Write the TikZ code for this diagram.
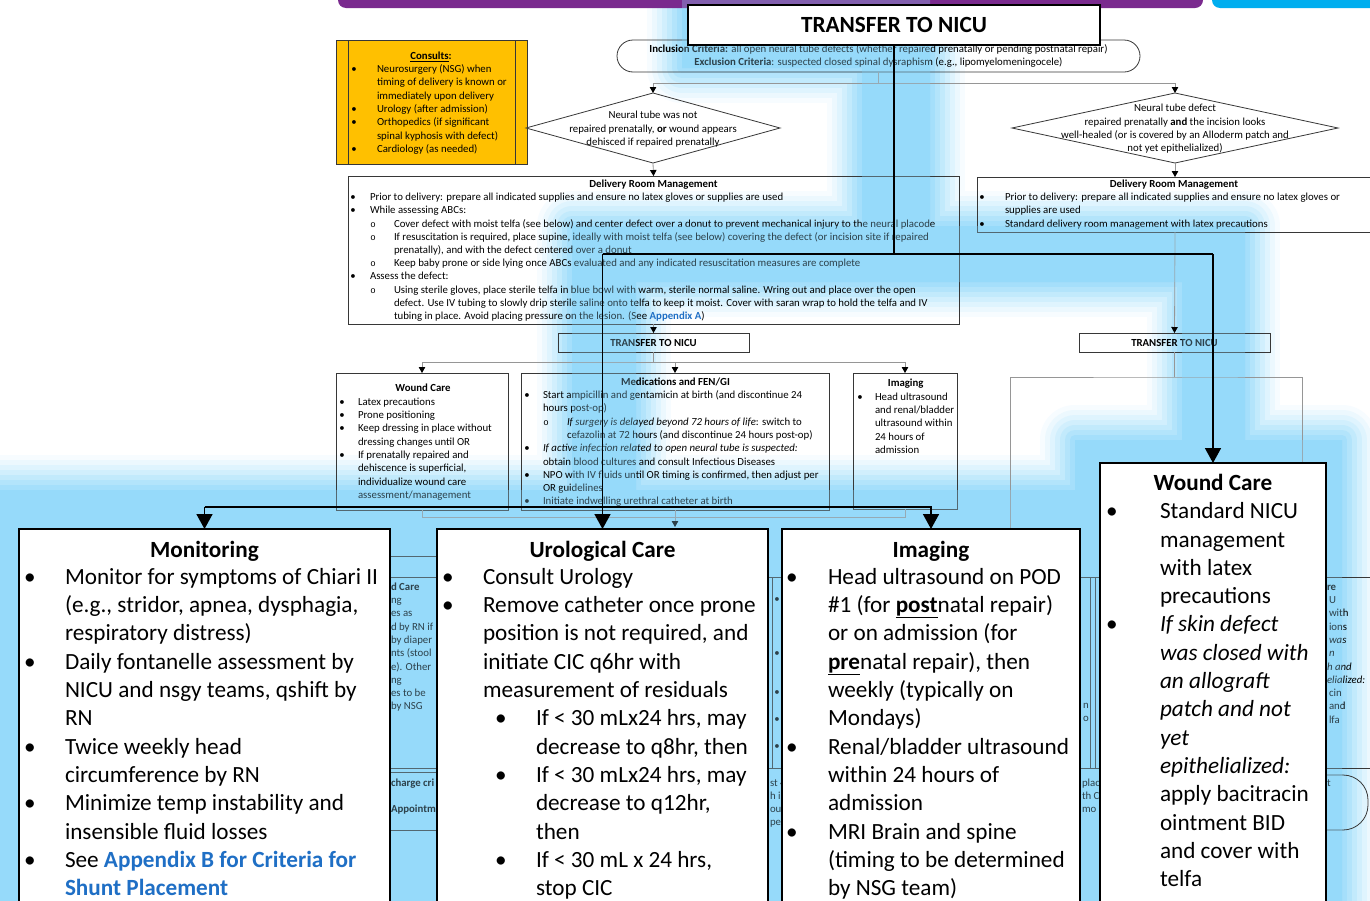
\documentclass[tikz,border=0pt]{standalone}
\usepackage{fontspec}
\setmainfont{Carlito}
\newfontfamily\monof{Liberation Mono}
\usetikzlibrary{arrows.meta,shapes.geometric}
\definecolor{glowc}{RGB}{150,218,250}
\definecolor{purp}{RGB}{122,42,142}
\definecolor{cyanbar}{RGB}{0,174,239}
\definecolor{gold}{RGB}{255,192,0}
\definecolor{link}{RGB}{31,111,197}
\definecolor{gline}{RGB}{150,150,150}
\definecolor{bline}{RGB}{55,55,55}
\newcommand\smf{\fontsize{10.8}{13.2}\selectfont}
\newcommand\bgf{\fontsize{23.2}{28.3}\selectfont}
\newcounter{ln}
\newcommand\Lt[3]{\stepcounter{ln}\node[txt,anchor=base west] (t\theln) at (#1,#2) {#3};}
\newcommand\Ct[3]{\stepcounter{ln}\node[txt,anchor=base] (t\theln) at (#1,#2) {#3};}
\newcommand\Bu[2]{\Ct{#1}{#2}{\textbullet}}
\newcommand\Ob[2]{\Ct{#1}{#2}{{\monof\fontsize{9}{9}\selectfont o}}}
\tikzset{
 txt/.style={inner sep=0pt,outer sep=0pt},
 sbox/.style={draw=bline,line width=0.8pt,inner sep=0pt,outer sep=0pt},
 gc/.style={draw=gline,line width=0.8pt},
 hl/.style={draw=bline,line width=0.8pt},
 bk/.style={draw=black,line width=1.6pt},
 bbox/.style={draw=black,line width=2.2pt,fill=white,inner sep=0pt,outer sep=0pt},
 smt/.tip={Triangle[width=6.5pt,length=6pt,color=black]},
 bigt/.tip={Triangle[width=16pt,length=15pt]},
}
\def\glowcore{(682,0) rectangle (930,68) (862,0) rectangle (930,282) (572,226) rectangle (1245,282) (572,226) rectangle (636,500) (1182,226) rectangle (1245,450) (1075,440) rectangle (1342,910) (-10,490) rectangle (1342,910)}
\begin{document}
\begin{tikzpicture}[x=1pt,y=-1pt]
\useasboundingbox (0,0) rectangle (1370,900);
\clip (0,0) rectangle (1370,900);
\fill[white] (0,0) rectangle (1370,900);
% ---------- soft glow (base) ----------
\foreach \w/\t in {70/8,60/18,50/30,40/44,30/58,20/72,10/86}{
  \filldraw[draw=glowc!\t,fill=glowc!\t,line width=\w pt,line join=round] \glowcore;}
\fill[glowc] \glowcore;
% ---------- top bars ----------
\fill[purp,rounded corners=8pt] (338,-20) rectangle (1203,8);
\fill[cyanbar,rounded corners=8pt] (1212,-20) rectangle (1395,8);
% ---------- background flowchart ----------
\begin{scope}[nodes={font=\smf}]
\node[sbox,fill=gold,minimum width=191pt,minimum height=124pt] (cons) at (431.5,102) {};
\draw[bline,line width=0.8pt] (348,40) -- (348,164) (515,40) -- (515,164);
\Ct{431}{59.5}{\textbf{\underline{Consults}:}}
\Bu{354}{72.8}\Bu{354}{112.5}\Bu{354}{125.8}\Bu{354}{152.5}
\Lt{377}{72.8}{Neurosurgery (NSG) when}
\Lt{377}{85.8}{timing of delivery is known or}
\Lt{377}{99.2}{immediately upon delivery}
\Lt{377}{112.5}{Urology (after admission)}
\Lt{377}{125.8}{Orthopedics (if significant}
\Lt{377}{139.2}{spinal kyphosis with defect)}
\Lt{377}{152.5}{Cardiology (as needed)}

\node[sbox,rounded corners=16pt,minimum width=523pt,minimum height=32pt] (crit) at (878.5,56) {};
\Ct{878.5}{52.5}{\textbf{Inclusion Criteria:} all open neural tube defects (whether repaired prenatally or pending postnatal repair)}
\Ct{878.5}{65.8}{\textbf{Exclusion Criteria}: suspected closed spinal dysraphism (e.g., lipomyelomeningocele)}

\node[diamond,sbox,minimum width=254pt,minimum height=70pt] (dL) at (653,128) {};
\Ct{653}{118.8}{Neural tube was not}
\Ct{653}{132.1}{repaired prenatally, \textbf{or} wound appears}
\Ct{653}{145.4}{dehisced if repaired prenatally}
\node[diamond,sbox,minimum width=326pt,minimum height=70pt] (dR) at (1175,128) {};
\Ct{1175}{111.8}{Neural tube defect}
\Ct{1175}{125.1}{repaired prenatally \textbf{and} the incision looks}
\Ct{1175}{138.4}{well-healed (or is covered by an Alloderm patch and}
\Ct{1175}{151.7}{not yet epithelialized)}

\draw[gc] (crit.south) -- ++(0,11) coordinate (c0);
\draw[gc,-smt] (c0) -| (dL.north);
\draw[gc,-smt] (c0) -| (dR.north);

\node[sbox,minimum width=611pt,minimum height=148pt] (drmL) at (653.5,250) {};
\draw[gc,-smt] (dL.south) -- (drmL.north);
\Ct{653.5}{187.5}{\textbf{Delivery Room Management}}
\Bu{353}{200.7}\Bu{353}{213.9}\Bu{353}{279.9}
\Ob{373}{227.1}\Ob{373}{240.3}\Ob{373}{266.7}\Ob{373}{293.1}
\Lt{370}{200.7}{Prior to delivery: prepare all indicated supplies and ensure no latex gloves or supplies are used}
\Lt{370}{213.9}{While assessing ABCs:}
\Lt{394}{227.1}{Cover defect with moist telfa (see below) and center defect over a donut to prevent mechanical injury to the neural placode}
\Lt{394}{240.3}{If resuscitation is required, place supine, ideally with moist telfa (see below) covering the defect (or incision site if repaired}
\Lt{394}{253.5}{prenatally), and with the defect centered over a donut}
\Lt{394}{266.7}{Keep baby prone or side lying once ABCs evaluated and any indicated resuscitation measures are complete}
\Lt{370}{279.9}{Assess the defect:}
\Lt{394}{293.1}{Using sterile gloves, place sterile telfa in blue bowl with warm, sterile normal saline. Wring out and place over the open}
\Lt{394}{306.3}{defect. Use IV tubing to slowly drip sterile saline onto telfa to keep it moist. Cover with saran wrap to hold the telfa and IV}
\Lt{394}{319.5}{tubing in place. Avoid placing pressure on the lesion. (See \textcolor{link}{\textbf{Appendix A}})}

\node[sbox,minimum width=396pt,minimum height=55pt] (drmR) at (1175,204.5) {};
\draw[gc,-smt] (dR.south) -- (drmR.north);
\Ct{1174}{187.5}{\textbf{Delivery Room Management}}
\Bu{982}{200.7}\Bu{982}{227.1}
\Lt{1005}{200.7}{Prior to delivery: prepare all indicated supplies and ensure no latex gloves or}
\Lt{1005}{213.9}{supplies are used}
\Lt{1005}{227.1}{Standard delivery room management with latex precautions}

\node[sbox,minimum width=191pt,minimum height=19pt,font=\fontsize{10.8}{12}\selectfont\bfseries] (tL) at (653.5,342.5) {TRANSFER TO NICU};
\node[sbox,minimum width=191pt,minimum height=19pt,font=\fontsize{10.8}{12}\selectfont\bfseries] (tR) at (1174.5,342.5) {TRANSFER TO NICU};
\draw[gc,-smt] (drmL.south) -- (tL.north);
\draw[gc,-smt] (drmR.south) -- (tR.north);

\node[sbox,minimum width=172pt,minimum height=137pt] (wcS) at (422,441.5) {};
\node[sbox,minimum width=308pt,minimum height=137pt] (med) at (675,441.5) {};
\node[sbox,minimum width=104pt,minimum height=136pt] (imS) at (905,441) {};
\draw[gc] (tL.south) -- ++(0,10) coordinate (m0);
\draw[gc,-smt] (m0) -| (wcS.north);
\draw[gc,-smt] (m0) -| (imS.north);
\draw[gc,-smt] (m0 -| med.north) -- (med.north);
\draw[gc] (wcS.south) -- ++(0,7) coordinate (b1);
\draw[gc] (imS.south) |- (b1);
\draw[gc] (med.south) -- ++(0,7) coordinate (b2);
\draw[gc,-smt] (b2) -- ++(0,10);
\draw[gc] (tR.south) -- ++(0,25) coordinate (r0);
\coordinate (rl) at (1010,600); \coordinate (rr) at (1302,600);
\draw[gc] (rl) |- (r0) -| (rr);

\Ct{423}{391.5}{\textbf{Wound Care}}
\Bu{342}{405.2}\Bu{342}{418.5}\Bu{342}{431.8}\Bu{342}{458.4}
\Lt{358}{405.2}{Latex precautions}
\Lt{358}{418.5}{Prone positioning}
\Lt{358}{431.8}{Keep dressing in place without}
\Lt{358}{445.1}{dressing changes until OR}
\Lt{358}{458.4}{If prenatally repaired and}
\Lt{358}{471.7}{dehiscence is superficial,}
\Lt{358}{485.0}{individualize wound care}
\Lt{358}{498.3}{assessment/management}

\Ct{675.5}{385.2}{\textbf{Medications and FEN/GI}}
\Bu{527}{398.5}\Bu{527}{451.7}\Bu{527}{478.3}\Bu{527}{504.9}
\Ob{546}{425.1}
\Lt{543}{398.5}{Start ampicillin and gentamicin at birth (and discontinue 24}
\Lt{543}{411.8}{hours post-op)}
\Lt{567}{425.1}{\textit{If surgery is delayed beyond 72 hours of life}: switch to}
\Lt{567}{438.4}{cefazolin at 72 hours (and discontinue 24 hours post-op)}
\Lt{543}{451.7}{\textit{If active infection related to open neural tube is suspected:}}
\Lt{543}{465.0}{obtain blood cultures and consult Infectious Diseases}
\Lt{543}{478.3}{NPO with IV fluids until OR timing is confirmed, then adjust per}
\Lt{543}{491.6}{OR guidelines}
\Lt{543}{504.9}{Initiate indwelling urethral catheter at birth}

\Ct{905.7}{386.8}{\textbf{Imaging}}
\Bu{860}{400.2}
\Lt{875}{400.2}{Head ultrasound}
\Lt{875}{413.5}{and renal/bladder}
\Lt{875}{426.8}{ultrasound within}
\Lt{875}{440.1}{24 hours of}
\Lt{875}{453.4}{admission}

% hidden lower layer (visible only in gaps)
\draw[hl] (380,556) -- (440,556) (380,577) -- (440,577) (380,768) -- (440,768) (380,772) -- (440,772) (380,830) -- (440,830);
\draw[hl] (772,577) -- (772,768) (760,577) -- (790,577) (760,768) -- (790,768);
\draw[hl] (1090,577) -- (1090,768) (1095,577) -- (1095,768) (1070,577) -- (1100,577) (1070,768) -- (1100,768);
\draw[hl] (1320,577) -- (1375,577) (1320,768) -- (1375,768);
\draw[hl,rounded corners=25pt] (1150,775) rectangle (1368,830);
\Lt{391}{590.2}{\textbf{d Care}}
\Lt{391}{603.5}{ng}
\Lt{391}{616.8}{es as}
\Lt{391}{630.1}{d by RN if}
\Lt{391}{643.4}{by diaper}
\Lt{391}{656.7}{nts (stool}
\Lt{391}{670.0}{e). Other}
\Lt{391}{683.3}{ng}
\Lt{391}{696.6}{es to be}
\Lt{391}{709.9}{by NSG}
\Lt{391}{786.5}{\textbf{charge cri}}
\Lt{391}{812.5}{\textbf{Appointm}}
\Bu{777}{602.5}\Bu{777}{656.5}\Bu{777}{695.5}\Bu{777}{722.5}\Bu{777}{749.5}
\Lt{770}{786.5}{st 4}
\Lt{770}{799.5}{h is}
\Lt{770}{812.5}{ou}
\Lt{770}{825.5}{pe}
\Lt{1083}{708.5}{n}
\Lt{1083}{721.5}{o}
\Lt{1082}{786.5}{place}
\Lt{1082}{799.5}{th C}
\Lt{1082}{812.5}{mo}
\Lt{1327}{590.2}{\textbf{re}}
\Lt{1329}{603.5}{U}
\Lt{1329}{616.8}{with}
\Lt{1329}{630.1}{ions}
\Lt{1329}{643.4}{\textit{was}}
\Lt{1329}{656.7}{\textit{n}}
\Lt{1327}{670.0}{\textit{h and}}
\Lt{1327}{683.3}{\textit{elialized:}}
\Lt{1329}{696.6}{cin}
\Lt{1329}{709.9}{and}
\Lt{1329}{723.2}{lfa}
\Lt{1327}{786.5}{t}
\end{scope}
% ---------- glow overlay (tints what lies under it) ----------
\fill[glowc,fill opacity=0.3] \glowcore;
% ---------- foreground ----------
\node[draw=black,line width=2.5pt,fill=white,inner sep=0pt,outer sep=0pt,minimum width=412pt,minimum height=40pt,font=\fontsize{23.2}{28}\selectfont\bfseries] (title) at (894,25) {TRANSFER TO NICU};
\node[bbox,minimum width=371pt,minimum height=400pt,anchor=north west] (mon) at (19,529) {};
\node[bbox,minimum width=331pt,minimum height=400pt,anchor=north west] (uro) at (437,529) {};
\node[bbox,minimum width=298pt,minimum height=400pt,anchor=north west] (img) at (782,529) {};
\node[bbox,minimum width=226pt,minimum height=460pt,anchor=north west] (wcb) at (1100,463) {};
\coordinate (jL) at (602.5,254); \coordinate (jR) at (1213,254); \coordinate (jM) at (204.5,507);
\draw[bk] (title.south) -- (title.south |- jL);
\draw[bk] (jL) -- (jR);
\draw[bk,-bigt] (jL) -- (uro.north);
\draw[bk,-bigt] (jR) -- (wcb.north);
\draw[bk,-bigt] (jM) -- (mon.north);
\draw[bk,-bigt] (jM) -| (img.north);

\begin{scope}[nodes={font=\bgf}]
\Ct{204.5}{557}{\textbf{Monitoring}}
\Bu{30}{584.3}\Bu{30}{669.2}\Bu{30}{754.1}\Bu{30}{810.7}\Bu{30}{867.3}
\Lt{65}{584.3}{Monitor for symptoms of Chiari II}
\Lt{65}{612.6}{(e.g., stridor, apnea, dysphagia,}
\Lt{65}{640.9}{respiratory distress)}
\Lt{65}{669.2}{Daily fontanelle assessment by}
\Lt{65}{697.5}{NICU and nsgy teams, qshift by}
\Lt{65}{725.8}{RN}
\Lt{65}{754.1}{Twice weekly head}
\Lt{65}{782.4}{circumference by RN}
\Lt{65}{810.7}{Minimize temp instability and}
\Lt{65}{839.0}{insensible fluid losses}
\Lt{65}{867.3}{See \textcolor{link}{\textbf{Appendix B for Criteria for}}}
\Lt{65}{895.6}{\textcolor{link}{\textbf{Shunt Placement}}}

\Ct{602.5}{557}{\textbf{Urological Care}}
\Bu{448}{584.3}\Bu{448}{612.6}\Bu{501}{725.8}\Bu{501}{782.4}\Bu{501}{867.3}
\Lt{483}{584.3}{Consult Urology}
\Lt{483}{612.6}{Remove catheter once prone}
\Lt{483}{640.9}{position is not required, and}
\Lt{483}{669.2}{initiate CIC q6hr with}
\Lt{483}{697.5}{measurement of residuals}
\Lt{536}{725.8}{If < 30 mLx24 hrs, may}
\Lt{536}{754.1}{decrease to q8hr, then}
\Lt{536}{782.4}{If < 30 mLx24 hrs, may}
\Lt{536}{810.7}{decrease to q12hr,}
\Lt{536}{839.0}{then}
\Lt{536}{867.3}{If < 30 mL x 24 hrs,}
\Lt{536}{895.6}{stop CIC}

\Ct{931}{557}{\textbf{Imaging}}
\Bu{792}{584.3}\Bu{792}{754.1}\Bu{792}{839.0}
\Lt{828}{584.3}{Head ultrasound on POD}
\Lt{828}{612.6}{\#1 (for \underline{\textbf{post}}natal repair)}
\Lt{828}{640.9}{or on admission (for}
\Lt{828}{669.2}{\underline{\textbf{pre}}natal repair), then}
\Lt{828}{697.5}{weekly (typically on}
\Lt{828}{725.8}{Mondays)}
\Lt{828}{754.1}{Renal/bladder ultrasound}
\Lt{828}{782.4}{within 24 hours of}
\Lt{828}{810.7}{admission}
\Lt{828}{839.0}{MRI Brain and spine}
\Lt{828}{867.3}{(timing to be determined}
\Lt{828}{895.6}{by NSG team)}

\Ct{1213}{490.3}{\textbf{Wound Care}}
\Bu{1112}{518.7}\Bu{1112}{631.9}
\Lt{1160}{518.7}{Standard NICU}
\Lt{1160}{547.0}{management}
\Lt{1160}{575.3}{with latex}
\Lt{1160}{603.6}{precautions}
\Lt{1160}{631.9}{\textit{If skin defect}}
\Lt{1160}{660.2}{\textit{was closed with}}
\Lt{1160}{688.5}{\textit{an allograft}}
\Lt{1160}{716.8}{\textit{patch and not}}
\Lt{1160}{745.1}{\textit{yet}}
\Lt{1160}{773.4}{\textit{epithelialized:}}
\Lt{1160}{801.7}{apply bacitracin}
\Lt{1160}{830.0}{ointment BID}
\Lt{1160}{858.3}{and cover with}
\Lt{1160}{886.6}{telfa}
\end{scope}
\end{tikzpicture}
\end{document}
